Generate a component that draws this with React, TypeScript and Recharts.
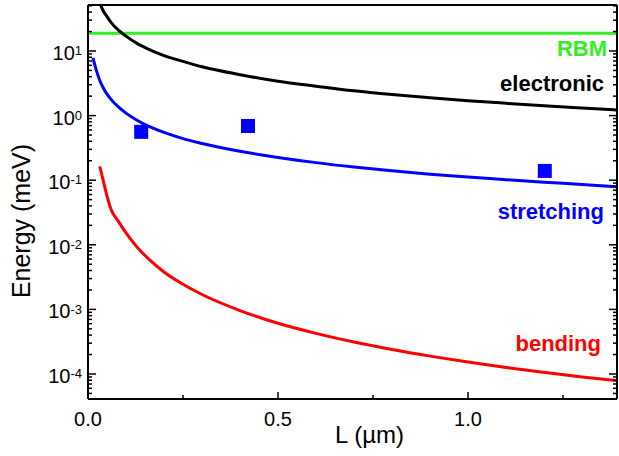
import React from "react";
import {
  ComposedChart,
  Line,
  Scatter,
  XAxis,
  YAxis,
  ReferenceLine,
} from "recharts";

const lengths = [
  0.013, 0.022, 0.031, 0.04, 0.05, 0.06, 0.08, 0.1, 0.13, 0.16, 0.2, 0.25,
  0.3, 0.4, 0.5, 0.6, 0.7, 0.8, 0.9, 1.0, 1.1, 1.2, 1.3, 1.39,
];

// energies in meV (null = curve not drawn there)
const electronicEnergy = [
  null, null, 55, 42, 34, 28, 21, 17, 13, 10.6, 8.5, 6.9,
  5.7, 4.3, 3.4, 2.85, 2.42, 2.12, 1.89, 1.7, 1.55, 1.42, 1.31, 1.22,
];
const stretchingEnergy = [
  7.8, 5.0, 3.5, 2.7, 2.15, 1.8, 1.36, 1.09, 0.84, 0.68, 0.55, 0.44,
  0.37, 0.28, 0.225, 0.187, 0.16, 0.14, 0.124, 0.112, 0.102, 0.093, 0.086, 0.079,
];
const bendingEnergy = [
  null, null, 0.163, 0.099, 0.057, 0.036, 0.023, 0.0153, 0.0091, 0.006, 0.0038, 0.00245,
  0.0017, 0.00096, 0.00061, 0.000425, 0.000312, 0.000239, 0.000189, 0.000153,
  0.000126, 0.000106, 0.00009, 0.000079,
];
const rbmEnergy = 18.8;

// measured points (squares)
const measuredLengths = [0.14, 0.421, 1.202];
const measuredEnergy = [0.56, 0.69, 0.139];

// axis ticks
const xTicks = [0, 0.25, 0.5, 0.75, 1.0, 1.25];
const yMajorTicks = [1e-4, 1e-3, 1e-2, 1e-1, 1, 10];
const minorMantissas = [2, 3, 4, 5, 6, 7, 8, 9];
const minorDecades = [1e-5, 1e-4, 1e-3, 1e-2, 1e-1, 1, 10];

const X_DOMAIN: [number, number] = [0, 1.392];
const Y_DOMAIN: [number, number] = [4.1e-5, 51.5];

const yTicks = [
  ...yMajorTicks,
  ...minorDecades
    .flatMap((d) => minorMantissas.map((m) => +(m * d).toPrecision(3)))
    .filter((v) => v > Y_DOMAIN[0] && v < Y_DOMAIN[1]),
].sort((a, b) => a - b);

const FONT = "'Liberation Sans', Arial, Helvetica, sans-serif";
const TICK_W = 1.5;

const toRows = (values: (number | null)[]) =>
  lengths
    .map((L, i) => ({ L, E: values[i] }))
    .filter((d) => d.E !== null);

const electronicData = toRows(electronicEnergy);
const stretchingData = toRows(stretchingEnergy);
const bendingData = toRows(bendingEnergy);
const measuredData = measuredLengths.map((L, i) => ({ L, E: measuredEnergy[i] }));

const isMajorX = (v: number) => Math.abs(v * 2 - Math.round(v * 2)) < 1e-6;
const isMajorY = (v: number) => {
  const l = Math.log10(v);
  return Math.abs(l - Math.round(l)) < 1e-6;
};

// x ticks: inward line (+ label on the bottom axis)
const XTick = (props: any) => {
  const { x, y, payload, side } = props;
  const v = payload.value;
  const major = isMajorX(v);
  const len = major ? 7 : 4;
  const dir = side === "bottom" ? -1 : 1;
  return (
    <g>
      <line x1={x} x2={x} y1={y} y2={y + dir * len} stroke="#000" strokeWidth={TICK_W} />
      {side === "bottom" && major && (
        <text x={x} y={y + 27} textAnchor="middle" fontSize={20} fill="#000" fontFamily={FONT}>
          {v.toFixed(1)}
        </text>
      )}
    </g>
  );
};

// y ticks: inward line (+ 10^n label on the left axis)
const YTick = (props: any) => {
  const { x, y, payload, side } = props;
  const v = payload.value;
  const major = isMajorY(v);
  const len = major ? 8 : 4;
  const dir = side === "left" ? 1 : -1;
  return (
    <g>
      <line x1={x} x2={x + dir * len} y1={y} y2={y} stroke="#000" strokeWidth={TICK_W} />
      {side === "left" && major && (
        <text x={x - 6} y={y + 9} textAnchor="end" fontSize={20} fill="#000" fontFamily={FONT}>
          10
          <tspan dy={-4.8} fontSize={13}>
            {Math.round(Math.log10(v))}
          </tspan>
        </text>
      )}
    </g>
  );
};

const Square = (props: any) => {
  const { cx, cy } = props;
  return <rect x={cx - 7} y={cy - 7} width={14} height={14} fill="#0000ff" />;
};

const axisStroke = { stroke: "#000", strokeWidth: 2 };

export default function App() {
  return (
    <div
      style={{
        position: "absolute",
        left: 0,
        top: 0,
        width: 619,
        height: 456,
        background: "#fff",
        fontFamily: FONT,
      }}
    >
      <ComposedChart
        width={619}
        height={456}
        margin={{ top: 5, right: 2, bottom: 0, left: 0 }}
      >
        <XAxis
          xAxisId="x"
          dataKey="L"
          type="number"
          domain={X_DOMAIN}
          allowDataOverflow
          ticks={xTicks}
          interval={0}
          height={57}
          axisLine={axisStroke}
          tickLine={false}
          tickSize={0}
          tickMargin={0}
          tick={<XTick side="bottom" />}
        />
        <XAxis
          xAxisId="xTop"
          orientation="top"
          mirror
          height={1}
          type="number"
          domain={X_DOMAIN}
          allowDataOverflow
          ticks={xTicks}
          interval={0}
          axisLine={axisStroke}
          tickLine={false}
          tickSize={0}
          tickMargin={0}
          tick={<XTick side="top" />}
        />
        <YAxis
          yAxisId="y"
          dataKey="E"
          type="number"
          scale="log"
          domain={Y_DOMAIN}
          allowDataOverflow
          ticks={yTicks}
          interval={0}
          width={88}
          axisLine={axisStroke}
          tickLine={false}
          tickSize={0}
          tickMargin={0}
          tick={<YTick side="left" />}
        />
        <YAxis
          yAxisId="yRight"
          orientation="right"
          mirror
          width={1}
          type="number"
          scale="log"
          domain={Y_DOMAIN}
          allowDataOverflow
          ticks={yTicks}
          interval={0}
          axisLine={axisStroke}
          tickLine={false}
          tickSize={0}
          tickMargin={0}
          tick={<YTick side="right" />}
        />

        <ReferenceLine
          xAxisId="x"
          yAxisId="y"
          y={rbmEnergy}
          stroke="#33ee22"
          strokeWidth={3}
        />
        <Line
          xAxisId="x"
          yAxisId="y"
          data={electronicData}
          dataKey="E"
          type="monotone"
          stroke="#000000"
          strokeWidth={3}
          dot={false}
          isAnimationActive={false}
        />
        <Line
          xAxisId="x"
          yAxisId="y"
          data={stretchingData}
          dataKey="E"
          type="monotone"
          stroke="#0000ff"
          strokeWidth={3}
          dot={false}
          isAnimationActive={false}
        />
        <Line
          xAxisId="x"
          yAxisId="y"
          data={bendingData}
          dataKey="E"
          type="monotone"
          stroke="#ff0000"
          strokeWidth={3}
          dot={false}
          isAnimationActive={false}
        />
        <Scatter
          xAxisId="x"
          yAxisId="y"
          data={measuredData}
          dataKey="E"
          shape={<Square />}
          isAnimationActive={false}
        />
      </ComposedChart>

      {/* axis titles and curve labels */}
      <svg
        width={619}
        height={456}
        style={{ position: "absolute", left: 0, top: 0, pointerEvents: "none" }}
        fontFamily={FONT}
      >
        <text
          transform="translate(30,221) rotate(-90)"
          textAnchor="middle"
          fontSize={25}
          fill="#000"
        >
          Energy (meV)
        </text>
        <text x={369.5} y={443} textAnchor="middle" fontSize={24} fill="#000">
          L (µm)
        </text>
        <g fontSize={22} fontWeight="bold" textAnchor="end">
          <text x={607} y={56} fill="#33ee22">RBM</text>
          <text x={604} y={91} fill="#000">electronic</text>
          <text x={604} y={219} fill="#0000ff">stretching</text>
          <text x={601} y={351} fill="#ff0000">bending</text>
        </g>
      </svg>
    </div>
  );
}
